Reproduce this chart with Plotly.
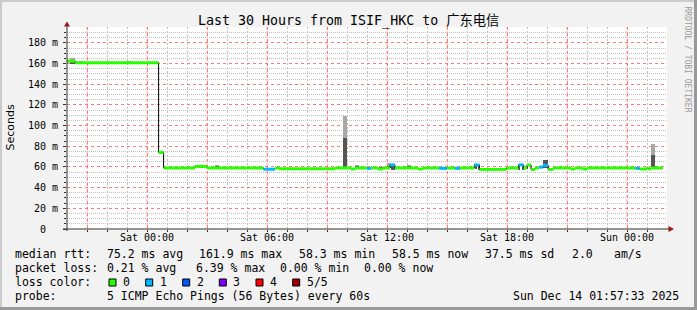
import plotly.graph_objects as go

W, H = 697, 310
L, R, T, B = 67, 30, 27, 81
PW, PH = W - L - R, H - T - B

def px(x):
    return (x - L) / PW

def py(y):
    return (H - B - y) / PH

# ---------------- data ----------------
# hours since Fri 20:00 (30 h window)
x_tickvals = [1, 4, 7, 10, 13, 16, 19, 22, 25, 28]
x_ticktext = ["", "Sat 00:00", "", "Sat 06:00", "", "Sat 12:00", "", "Sat 18:00", "", "Sun 00:00"]
x_minor = [h for h in range(1, 30) if h not in x_tickvals]
y_tickvals = [0, 20, 40, 60, 80, 100, 120, 140, 160, 180]
y_ticktext = ["0\u00a0\u00a0", "20 m", "40 m", "60 m", "80 m", "100 m", "120 m", "140 m", "160 m", "180 m"]
y_minor = [v for v in range(5, 195, 5) if v % 20 != 0]

# median rtt segments: start hour, end hour, median (ms), lost pings
seg_start = [0.0, 0.42, 4.58, 4.83, 6.4, 7.0, 9.83, 10.4, 10.6, 13.4, 14.2, 14.4, 15.0, 15.2, 15.55,
             15.8, 16.15, 16.4, 17.55, 17.8, 18.6, 19.0, 19.4, 19.65, 20.37, 20.62, 21.97, 22.58,
             22.83, 23.0, 23.2, 23.4, 23.6, 23.8, 24.06, 24.3, 25.2, 25.4, 25.8, 26.0, 28.43,
             28.63, 28.97, 29.08, 29.2]
seg_end = seg_start[1:] + [29.8]
seg_median = [162.3, 160.8, 74.0, 59.0, 60.5, 59.0, 57.8, 59.0, 58.2, 59.0, 58.0, 59.0, 58.6, 59.0, 58.0,
              59.0, 62.0, 59.0, 58.0, 59.0, 58.6, 59.0, 58.6, 59.0, 62.0, 57.6, 59.0, 62.0,
              59.0, 62.0, 57.6, 59.0, 59.8, 61.5, 57.6, 59.0, 58.0, 59.0, 58.0, 59.0, 58.6,
              58.0, 59.0, 58.0, 59.0]
seg_loss = [0, 0, 0, 0, 0, 0, 1, 0, 0, 0, 0, 0, 1, 0, 0,
            0, 1, 0, 0, 0, 1, 0, 1, 0, 1, 0, 0, 1,
            0, 0, 0, 0, 1, 1, 0, 0, 0, 0, 0, 0, 1,
            0, 0, 0, 0]

# smoke (ping spread): start hour, end hour, low, mid, high (ms)
smoke_start = [0.17, 0.62, 3.0, 6.6, 7.4, 13.8, 14.4, 15.6, 16.0, 16.2, 17.0, 20.4, 20.55, 22.55,
               22.75, 23.0, 23.8, 29.2]
smoke_end = [0.42, 0.82, 3.2, 6.8, 7.6, 14.0, 14.6, 15.8, 16.2, 16.4, 17.2, 20.5, 20.65, 22.65,
             22.85, 23.05, 24.03, 29.4]
smoke_low = [160, 160, 160, 59, 59, 59, 59, 58, 59, 57, 59, 58, 57, 57, 57, 58, 59, 59]
smoke_mid = [161, 161, 161, 60, 60, 88, 60, 60, 61, 62, 60, 62, 62, 62, 61, 61, 67, 72]
smoke_high = [165, 162.5, 162.5, 62, 61, 109, 61, 60, 64, 62, 61.5, 62, 62, 62, 61, 61, 67, 82]

loss_names = ["0", "1", "2", "3", "4", "5/5"]
loss_colors = ["#26ff00", "#00b8ff", "#0059ff", "#7e00ff", "#ff0000", "#a10000"]

median_line = ["median rtt:", "75.2 ms avg", "161.9 ms max", "58.3 ms min", "58.5 ms now",
               "37.5 ms sd", "2.0", "am/s"]
median_pos = [16, 107.3, 199.5, 299.5, 393, 486, 572.7, 614.3]
loss_line = ["packet loss:", "0.21 % avg", "6.39 % max", "0.00 % min", "0.00 % now"]
loss_pos = [16, 107.3, 197, 281, 365]
probe_text = "5 ICMP Echo Pings (56 Bytes) every 60s"
stamp_text = "Sun Dec 14 01:57:33 2025"
title_text = "Last 30 Hours from ISIF_HKC to 广东电信"

# ---------------- figure ----------------
fig = go.Figure()

MONO = "DejaVu Sans Mono, Noto Sans CJK SC, monospace"
MAJ = "#ff7a7a"
MIN = "#c0c0c0"

# smoke: dark lower part and light upper part
sm_x = [(a + b) / 2 for a, b in zip(smoke_start, smoke_end)]
sm_w = [b - a for a, b in zip(smoke_start, smoke_end)]
fig.add_trace(go.Bar(x=sm_x, width=sm_w, base=smoke_mid,
                     y=[h - m for h, m in zip(smoke_high, smoke_mid)],
                     marker=dict(color="#a8a8a8", line=dict(width=0)), hoverinfo="skip"))
fig.add_trace(go.Bar(x=sm_x, width=sm_w, base=smoke_low,
                     y=[m - l for m, l in zip(smoke_mid, smoke_low)],
                     marker=dict(color="#555555", line=dict(width=0)), hoverinfo="skip"))

# thin black median step line (shows the jumps)
mx = list(seg_start) + [seg_end[-1]]
my = list(seg_median) + [seg_median[-1]]
fig.add_trace(go.Scatter(x=mx, y=my, mode="lines", line=dict(color="#000000", width=1, shape="hv"),
                         hoverinfo="skip"))

# coloured median bands by loss
for k, col in enumerate(loss_colors):
    xs, ys = [], []
    for a, b, v, l in zip(seg_start, seg_end, seg_median, seg_loss):
        if l == k:
            xs += [a, b, None]
            ys += [v, v, None]
    if xs:
        fig.add_trace(go.Scatter(x=xs, y=ys, mode="lines", line=dict(color=col, width=3),
                                 hoverinfo="skip"))

shapes = []
# vertical major grid (every 3 hours)
for hv in x_tickvals:
    shapes.append(dict(type="line", xref="x", yref="paper", x0=hv, x1=hv, y0=0, y1=1,
                       line=dict(color="#ffa4a4", width=1, dash="2px,2px"), layer="below"))
# frame
shapes.append(dict(type="rect", xref="paper", yref="paper", x0=px(0), x1=px(W), y0=py(0), y1=py(2),
                   fillcolor="#cbcbcb", line=dict(width=0), layer="below"))
shapes.append(dict(type="rect", xref="paper", yref="paper", x0=px(0), x1=px(2), y0=py(0), y1=py(H),
                   fillcolor="#cbcbcb", line=dict(width=0), layer="below"))
shapes.append(dict(type="rect", xref="paper", yref="paper", x0=px(W - 3), x1=px(W), y0=py(0), y1=py(H),
                   fillcolor="#999999", line=dict(width=0), layer="below"))
shapes.append(dict(type="rect", xref="paper", yref="paper", x0=px(0), x1=px(W), y0=py(H - 3), y1=py(H),
                   fillcolor="#999999", line=dict(width=0), layer="below"))
# axis lines
shapes.append(dict(type="line", xref="paper", yref="paper", x0=px(L), x1=px(L), y0=py(231), y1=py(25),
                   line=dict(color="#333333", width=1)))
shapes.append(dict(type="line", xref="paper", yref="paper", x0=px(63), x1=px(669), y0=py(229), y1=py(229),
                   line=dict(color="#333333", width=1)))
# arrows
shapes.append(dict(type="path", xref="paper", yref="paper",
                   path=f"M {px(64)} {py(26.5)} L {px(70)} {py(26.5)} L {px(67)} {py(21.5)} Z",
                   fillcolor="#9a1818", line=dict(width=0)))
shapes.append(dict(type="path", xref="paper", yref="paper",
                   path=f"M {px(668.5)} {py(226)} L {px(668.5)} {py(232)} L {px(674)} {py(229)} Z",
                   fillcolor="#9a1818", line=dict(width=0)))

ann = []
ann.append(dict(text=title_text, x=px(W / 2), y=py(21.5), xref="paper", yref="paper",
                xanchor="center", yanchor="middle", showarrow=False,
                font=dict(family=MONO, size=13.3, color="#000000")))
ann.append(dict(text="Seconds", x=px(10), y=py(127.5), xref="paper", yref="paper", textangle=-90,
                xanchor="center", yanchor="middle", showarrow=False,
                font=dict(family="DejaVu Sans, sans-serif", size=11, color="#000000")))
ann.append(dict(text="RRDTOOL / TOBI OETIKER", x=px(687.5), y=py(59), xref="paper", yref="paper",
                textangle=90, xanchor="center", yanchor="middle", showarrow=False,
                font=dict(family=MONO, size=8, color="#9a9a9a")))

LEG = dict(family=MONO, size=11.5, color="#000000")

def text_at(t, x, y):
    ann.append(dict(text=t, x=px(x - 0.6), y=py(y), xref="paper", yref="paper", xanchor="left",
                    yanchor="middle", showarrow=False, borderpad=0, borderwidth=0, font=LEG))

for t, x in zip(median_line, median_pos):
    text_at(t, x, 254.3)
for t, x in zip(loss_line, loss_pos):
    text_at(t, x, 268.3)
text_at("loss color:", 16, 282.3)
box_x = [109, 145.7, 182.7, 219.3, 256, 292.7]
for name, col, bx in zip(loss_names, loss_colors, box_x):
    shapes.append(dict(type="rect", xref="paper", yref="paper", x0=px(bx), x1=px(bx + 7),
                       y0=py(286), y1=py(279), fillcolor=col, line=dict(color="#000000", width=1)))
    text_at(name, bx + 14.5, 282.3)
text_at("probe:", 16, 296.3)
text_at(probe_text, 107.3, 296.3)
text_at(stamp_text, 513.3, 296.3)

TICKF = dict(family=MONO, size=10, color="#000000")

fig.update_layout(
    width=W, height=H,
    margin=dict(l=L, r=R, t=T, b=B, pad=0),
    paper_bgcolor="#f2f2f2", plot_bgcolor="#ffffff",
    showlegend=False, barmode="overlay", bargap=0,
    shapes=shapes, annotations=ann,
    xaxis=dict(range=[0, 30], tickvals=x_tickvals, ticktext=x_ticktext, showgrid=True,
               gridcolor=MAJ, griddash="dot", gridwidth=1,
               ticks="outside", ticklen=2, tickcolor="#333333", zeroline=False, showline=False,
               tickfont=TICKF, ticklabelstandoff=-3, fixedrange=True,
               minor=dict(tickvals=x_minor, showgrid=True,
                          gridcolor=MIN, griddash="2px,2px",
                          ticks="outside", ticklen=2, tickcolor="#333333")),
    yaxis=dict(range=[0, 195.3], tickvals=y_tickvals, ticktext=y_ticktext, showgrid=True,
               gridcolor=MAJ, griddash="dot", gridwidth=1,
               ticks="outside", ticklen=3, tickcolor="#333333", zeroline=False, showline=False,
               tickfont=TICKF, ticklabelstandoff=3, fixedrange=True,
               minor=dict(tickvals=y_minor, showgrid=True,
                          gridcolor=MIN, griddash="1px,1px",
                          ticks="outside", ticklen=2, tickcolor="#333333")),
)

fig.write_html("out.html")
